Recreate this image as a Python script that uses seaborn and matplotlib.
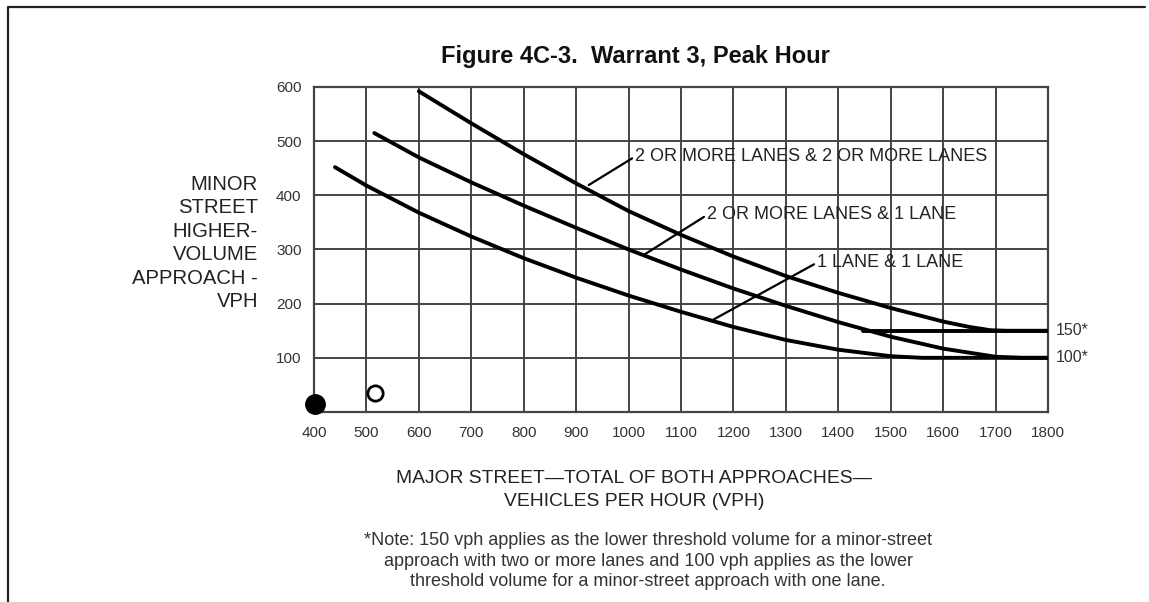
import matplotlib
matplotlib.use("Agg")
import matplotlib.pyplot as plt
import matplotlib.lines as mlines
import pandas as pd
import seaborn as sns

# Curves (major street vph -> minor street vph)
two_two_x = [600, 700, 800, 900, 1000, 1100, 1200, 1300, 1400, 1500, 1600, 1650, 1690, 1720, 1800]
two_two_y = [592, 533, 476, 422, 371, 327, 287, 251, 220, 192, 167, 157, 151, 150, 150]

two_one_x = [515, 600, 700, 800, 900, 1000, 1100, 1200, 1300, 1400, 1500, 1600, 1700, 1750, 1800]
two_one_y = [515, 470, 424, 381, 340, 300, 263, 228, 196, 166, 139, 117, 102, 100, 100]

one_one_x = [440, 500, 600, 700, 800, 900, 1000, 1100, 1200, 1300, 1400, 1500, 1560, 1800]
one_one_y = [452, 418, 368, 324, 284, 248, 215, 185, 157, 133, 115, 103, 100, 100]

# lower threshold segment at 150 vph
thresh_x = [1447, 1800]
thresh_y = [150, 150]

# plotted points near the origin
dot_filled = (402, 15)
dot_open = (517, 35)

x_ticks = list(range(400, 1900, 100))
y_ticks = [100, 200, 300, 400, 500, 600]

curve_labels = ["2 OR MORE LANES & 2 OR MORE LANES", "2 OR MORE LANES & 1 LANE", "1 LANE & 1 LANE"]
label_pos = [(1013, 472), (1150, 364), (1360, 276)]
leader_tip = [(924, 419), (1029, 290), (1157, 168)]

sns.set_style("white")
plt.rcParams['font.family'] = ['Liberation Sans', 'DejaVu Sans']

W, H = 1149, 602
fig = plt.figure(figsize=(W / 100, H / 100), dpi=100)
ax = fig.add_axes([314 / W, 1 - 412 / H, (1048 - 314) / W, (412 - 87) / H])

grid_col = "#444444"
for xv in x_ticks[1:-1]:
    ax.axvline(xv, color=grid_col, lw=1.4, zorder=1)
for yv in y_ticks[:-1]:
    ax.axhline(yv, color=grid_col, lw=1.4, zorder=1)

df = pd.concat([
    pd.DataFrame({"major": two_two_x, "minor": two_two_y, "curve": curve_labels[0]}),
    pd.DataFrame({"major": two_one_x, "minor": two_one_y, "curve": curve_labels[1]}),
    pd.DataFrame({"major": one_one_x, "minor": one_one_y, "curve": curve_labels[2]}),
    pd.DataFrame({"major": thresh_x, "minor": thresh_y, "curve": "threshold"}),
])
sns.lineplot(data=df, x="major", y="minor", units="curve", estimator=None,
             color="black", lw=2.8, sort=False, ax=ax, zorder=3)

ax.plot(*dot_filled, "o", color="black", ms=14, clip_on=False, zorder=4)
ax.plot(*dot_open, "o", mfc="white", mec="black", mew=2, ms=11, zorder=4)

for txt, pos, tip in zip(curve_labels, label_pos, leader_tip):
    ax.annotate(txt, xy=tip, xytext=pos, ha="left", va="center", fontsize=13,
                color="#222222", zorder=5,
                arrowprops=dict(arrowstyle="-", lw=1.6, color="black",
                                shrinkA=0, shrinkB=0, relpos=(0, 0.5)))

ax.text(1815, 150, "150*", ha="left", va="center", fontsize=11.5, color="#333333", clip_on=False)
ax.text(1815, 100, "100*", ha="left", va="center", fontsize=11.5, color="#333333", clip_on=False)

ax.set_xlim(400, 1800)
ax.set_ylim(0, 600)
ax.set_xticks(x_ticks)
ax.set_yticks(y_ticks)
ax.tick_params(length=0, labelsize=11, labelcolor="#333333")
ax.tick_params(axis="x", pad=10)
ax.tick_params(axis="y", pad=9)
ax.set_xlabel("")
ax.set_ylabel("")
for sp in ax.spines.values():
    sp.set_visible(True)
    sp.set_color(grid_col)
    sp.set_linewidth(1.6)

fig.text(635 / W, 1 - 57 / H, "Figure 4C-3.  Warrant 3, Peak Hour", ha="center", va="center",
         fontsize=17, fontweight="bold", color="#111111")
fig.text(258 / W, 1 - 243 / H, "MINOR\nSTREET\nHIGHER-\nVOLUME\nAPPROACH -\nVPH",
         ha="right", va="center", fontsize=14.6, linespacing=1.29, color="#222222", multialignment="right")
fig.text(634 / W, 1 - 490 / H, "MAJOR STREET\u2014TOTAL OF BOTH APPROACHES\u2014\nVEHICLES PER HOUR (VPH)",
         ha="center", va="center", fontsize=13.9, linespacing=1.4, color="#222222")
fig.text(648 / W, 1 - 561 / H,
         "*Note: 150 vph applies as the lower threshold volume for a minor-street\n"
         "approach with two or more lanes and 100 vph applies as the lower\n"
         "threshold volume for a minor-street approach with one lane.",
         ha="center", va="center", fontsize=13, linespacing=1.28, color="#333333")

# outer frame (left and top edges)
fig.add_artist(mlines.Line2D([8 / W, 8 / W, 1145 / W], [0, 1 - 6.5 / H, 1 - 6.5 / H],
                             color="#222222", lw=1.6))

fig.savefig("out.png", dpi=100)
